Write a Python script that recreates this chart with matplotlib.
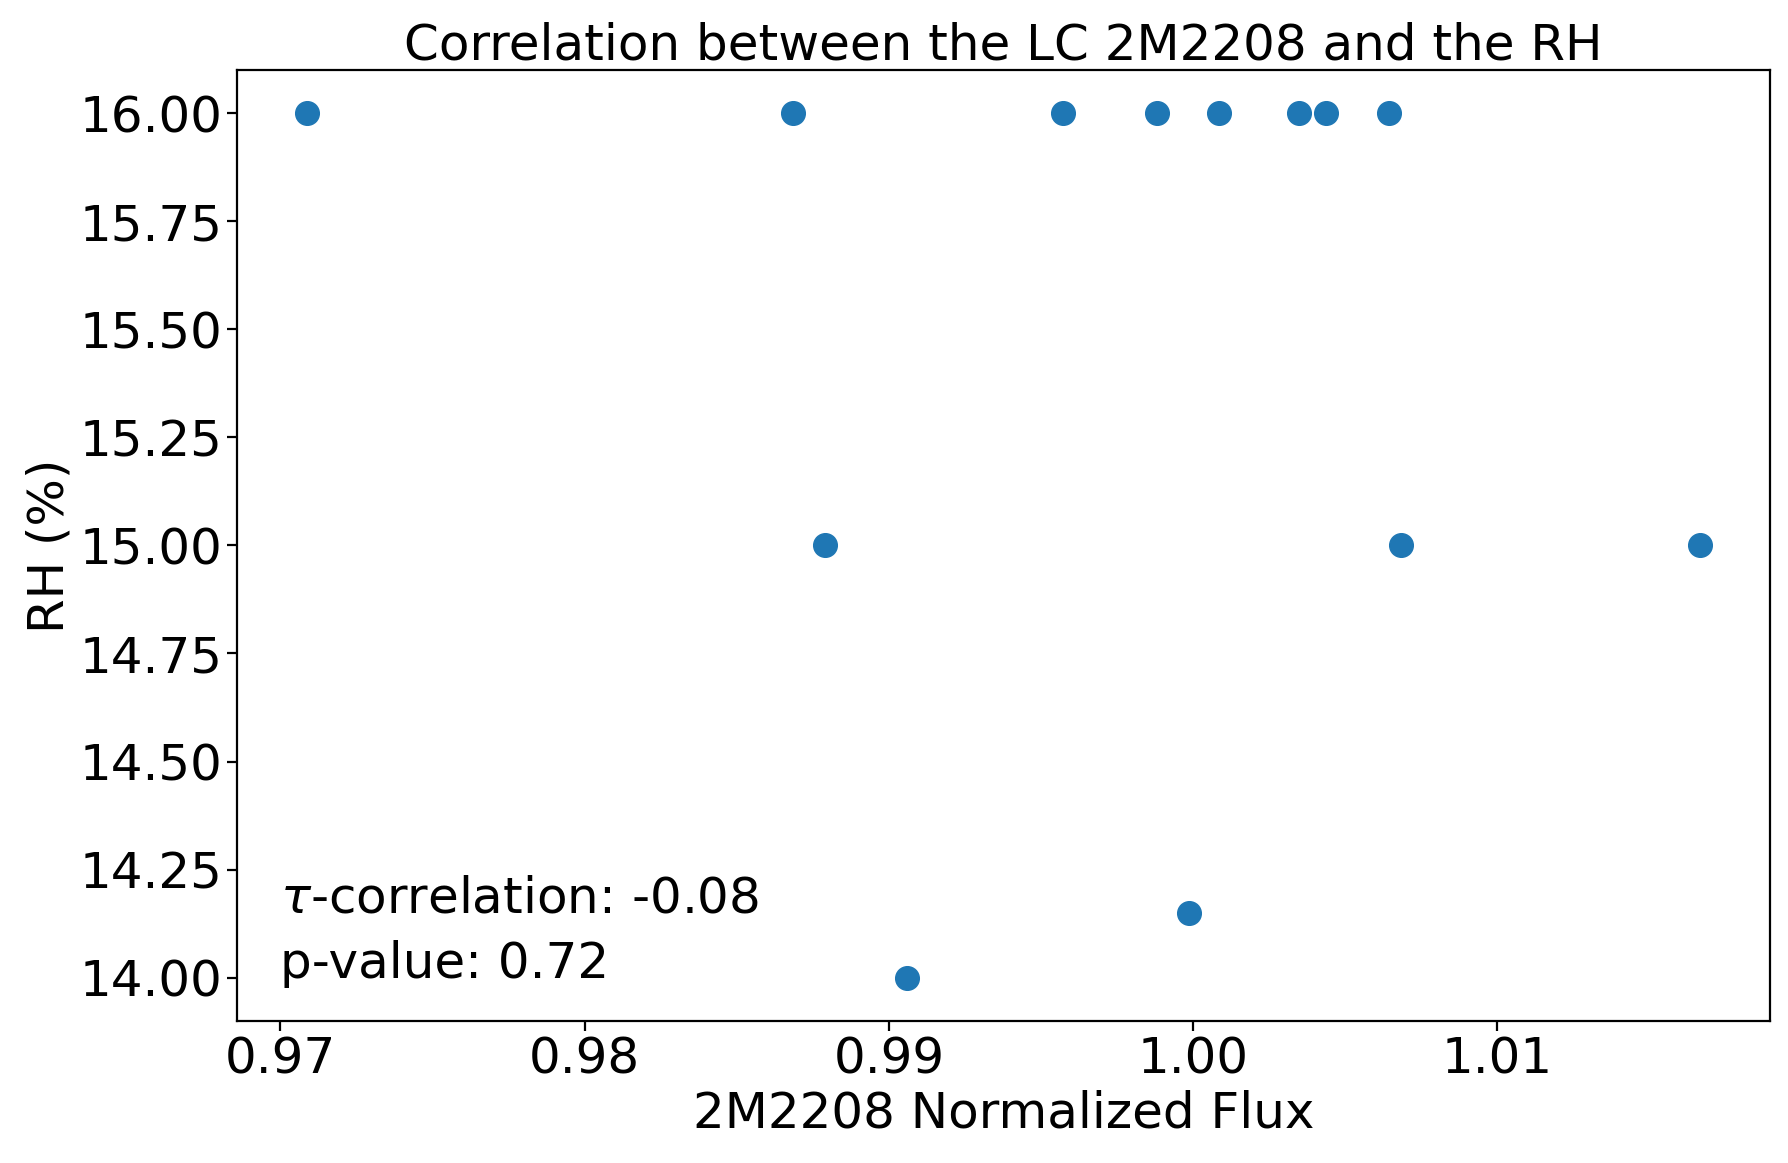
import matplotlib
matplotlib.use("Agg")
import matplotlib.pyplot as plt

flux = [0.97086, 0.98685, 0.99573, 0.99880, 1.00086, 1.00348, 1.00438, 1.00644,
        0.98790, 1.00682, 1.01667, 0.99985, 0.99060]
rh = [16, 16, 16, 16, 16, 16, 16, 16, 15, 15, 15, 14.15, 14.0]

tau_text = r"$\tau$-correlation: -0.08"
p_text = "p-value: 0.72"

fig = plt.figure(figsize=(17.88, 11.63), dpi=100)
ax = fig.add_axes([0.1325, 0.1221, 0.8575, 0.8179])
ax.scatter(flux, rh, s=290, color="#1f77b4")
ax.set_title("Correlation between the LC 2M2208 and the RH", fontsize=36)
ax.set_xlabel("2M2208 Normalized Flux", fontsize=36)
ax.set_ylabel("RH (%)", fontsize=36)
ax.tick_params(axis="both", labelsize=36, width=1.6, length=7)
for sp in ax.spines.values():
    sp.set_linewidth(1.6)
ax.text(0.97, 14.15, tau_text, fontsize=36)
ax.text(0.97, 14.0, p_text, fontsize=36)
ax.yaxis.set_major_formatter(matplotlib.ticker.FormatStrFormatter("%.2f"))
ax.xaxis.set_major_formatter(matplotlib.ticker.FormatStrFormatter("%.2f"))
fig.savefig("out.png", dpi=100)
